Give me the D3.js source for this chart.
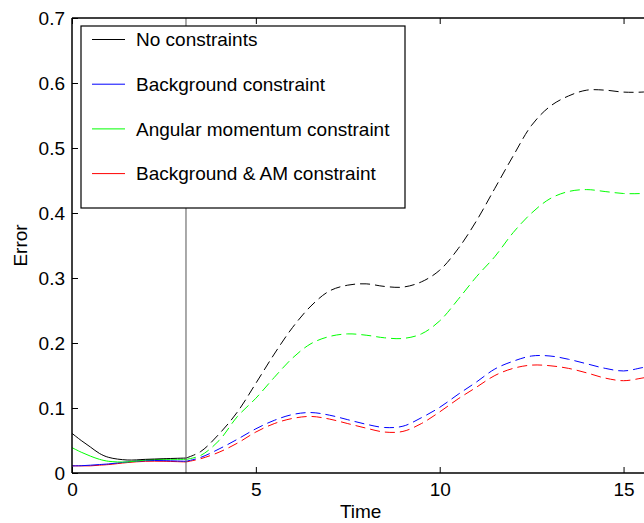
<!DOCTYPE html>
<html>
<head>
<meta charset="utf-8">
<script src="https://cdn.jsdelivr.net/npm/d3@7"></script>
<style>
  body { margin: 0; background: #fff; }
  svg text { font-family: "Liberation Sans", Arial, sans-serif; fill: #000; }
</style>
</head>
<body>
<svg id="chart"></svg>
<script>
// data
var times = [0, 0.25, 0.5, 0.75, 1, 1.5, 2, 2.5, 3.1, 3.5, 4, 4.5, 5, 5.5, 6, 6.5, 7, 7.5, 8, 8.5, 9, 9.5,
  10, 10.5, 11, 11.5, 12, 12.5, 13, 13.5, 14, 14.5, 15, 15.5, 15.7];
var noConstraints = [0.061, 0.050, 0.040, 0.030, 0.024, 0.020, 0.021, 0.022, 0.023, 0.033, 0.060, 0.094, 0.138, 0.183,
  0.224, 0.257, 0.280, 0.289, 0.291, 0.287, 0.286, 0.294, 0.312, 0.345, 0.388, 0.438, 0.488, 0.535,
  0.564, 0.580, 0.589, 0.589, 0.586, 0.586, 0.587];
var background = [0.011, 0.0112, 0.012, 0.013, 0.014, 0.017, 0.019, 0.019, 0.018, 0.024, 0.037, 0.052, 0.068, 0.081,
  0.090, 0.093, 0.089, 0.082, 0.075, 0.070, 0.072, 0.085, 0.101, 0.121, 0.140, 0.160, 0.172, 0.180,
  0.180, 0.175, 0.168, 0.161, 0.157, 0.162, 0.164];
var angular = [0.039, 0.032, 0.026, 0.021, 0.018, 0.017, 0.020, 0.021, 0.021, 0.027, 0.050, 0.087, 0.115, 0.147,
  0.177, 0.199, 0.210, 0.214, 0.212, 0.208, 0.207, 0.214, 0.234, 0.267, 0.302, 0.333, 0.370, 0.400,
  0.422, 0.433, 0.436, 0.433, 0.430, 0.430, 0.431];
var bothConstraints = [0.011, 0.011, 0.011, 0.012, 0.013, 0.016, 0.018, 0.018, 0.017, 0.022, 0.032, 0.046, 0.063, 0.076,
  0.084, 0.087, 0.083, 0.076, 0.069, 0.063, 0.064, 0.076, 0.094, 0.114, 0.132, 0.150, 0.161, 0.166,
  0.165, 0.161, 0.154, 0.146, 0.142, 0.146, 0.148];
var seriesNames = ["No constraints", "Background constraint", "Angular momentum constraint", "Background & AM constraint"];
var seriesColors = ["#000000", "#0000ff", "#00ff00", "#ff0000"];
var xTicks = [0, 5, 10, 15];
var yTicks = [0, 0.1, 0.2, 0.3, 0.4, 0.5, 0.6, 0.7];
var splitTime = 3.1;

var width = 644, height = 523;
var plotLeft = 72, plotTop = 18, plotRight = 649.3, plotBottom = 473;

var svg = d3.select("#chart").attr("width", width).attr("height", height);

var x = d3.scaleLinear().domain([0, 15.7]).range([plotLeft, plotRight]);
var y = d3.scaleLinear().domain([0, 0.7]).range([plotBottom, plotTop]);

svg.append("clipPath").attr("id", "plot")
  .append("rect").attr("x", plotLeft).attr("y", plotTop)
  .attr("width", plotRight - plotLeft).attr("height", plotBottom - plotTop);

var allSeries = [noConstraints, background, angular, bothConstraints];

var line = d3.line()
  .x(function(d) { return x(d[0]); })
  .y(function(d) { return y(d[1]); })
  .curve(d3.curveCatmullRom.alpha(0.5));

var plot = svg.append("g").attr("clip-path", "url(#plot)");

// draw back to front: red, blue, green, black
[3, 1, 2, 0].forEach(function(i) {
  var pts = times.map(function(t, j) { return [t, allSeries[i][j]]; });
  var solid = pts.filter(function(d) { return d[0] <= splitTime; });
  var dashed = pts.filter(function(d) { return d[0] >= splitTime; });
  plot.append("path").attr("d", line(solid))
    .attr("fill", "none").attr("stroke", seriesColors[i]).attr("stroke-width", 1);
  plot.append("path").attr("d", line(dashed))
    .attr("fill", "none").attr("stroke", seriesColors[i]).attr("stroke-width", 1)
    .attr("stroke-dasharray", "10,5");
});

// vertical marker
plot.append("line")
  .attr("x1", x(splitTime)).attr("x2", x(splitTime))
  .attr("y1", plotTop).attr("y2", plotBottom)
  .attr("stroke", "#555").attr("stroke-width", 1);

// axes
var yAxis = svg.append("g").attr("transform", "translate(" + plotLeft + ",0)")
  .call(d3.axisLeft(y).tickValues(yTicks).tickFormat(function(d) { return d === 0 ? "0" : d3.format(".1f")(d); })
    .tickSizeInner(-6).tickSizeOuter(0).tickPadding(7));
var xAxis = svg.append("g").attr("transform", "translate(0," + plotBottom + ")")
  .call(d3.axisBottom(x).tickValues(xTicks).tickFormat(d3.format("d"))
    .tickSizeInner(-6).tickSizeOuter(0).tickPadding(10));
var xTop = svg.append("g").attr("transform", "translate(0," + plotTop + ")")
  .call(d3.axisTop(x).tickValues(xTicks).tickFormat("").tickSizeInner(-6).tickSizeOuter(0));

[yAxis, xAxis, xTop].forEach(function(a) {
  a.select(".domain").remove();
  a.selectAll("text").attr("font-size", 19).attr("font-family", "Liberation Sans, Arial, sans-serif");
  a.selectAll("line").attr("stroke", "#000");
});

// frame
svg.append("line").attr("x1", plotLeft).attr("x2", plotLeft).attr("y1", plotTop).attr("y2", plotBottom)
  .attr("stroke", "#000").attr("stroke-width", 1.5);
svg.append("line").attr("x1", plotLeft).attr("x2", plotRight).attr("y1", plotBottom).attr("y2", plotBottom)
  .attr("stroke", "#000").attr("stroke-width", 1.5);
svg.append("line").attr("x1", plotLeft).attr("x2", plotRight).attr("y1", plotTop).attr("y2", plotTop)
  .attr("stroke", "#000").attr("stroke-width", 1.5);

// axis labels
svg.append("text").attr("x", (plotLeft + plotRight) / 2).attr("y", 518)
  .attr("text-anchor", "middle").attr("font-size", 19).text("Time");
svg.append("text").attr("transform", "translate(27," + ((plotTop + plotBottom) / 2) + ") rotate(-90)")
  .attr("text-anchor", "middle").attr("font-size", 19).text("Error");

// legend
var legend = svg.append("g");
legend.append("rect").attr("x", 81).attr("y", 26).attr("width", 324).attr("height", 182)
  .attr("fill", "#fff").attr("stroke", "#000").attr("stroke-width", 1.2);
seriesNames.forEach(function(name, i) {
  var ly = 39.5 + i * 44.7;
  legend.append("line").attr("x1", 92).attr("x2", 125).attr("y1", ly).attr("y2", ly)
    .attr("stroke", seriesColors[i]).attr("stroke-width", 1);
  legend.append("text").attr("x", 136).attr("y", ly).attr("dy", "0.35em")
    .attr("font-size", 19).text(name);
});
</script>
</body>
</html>
